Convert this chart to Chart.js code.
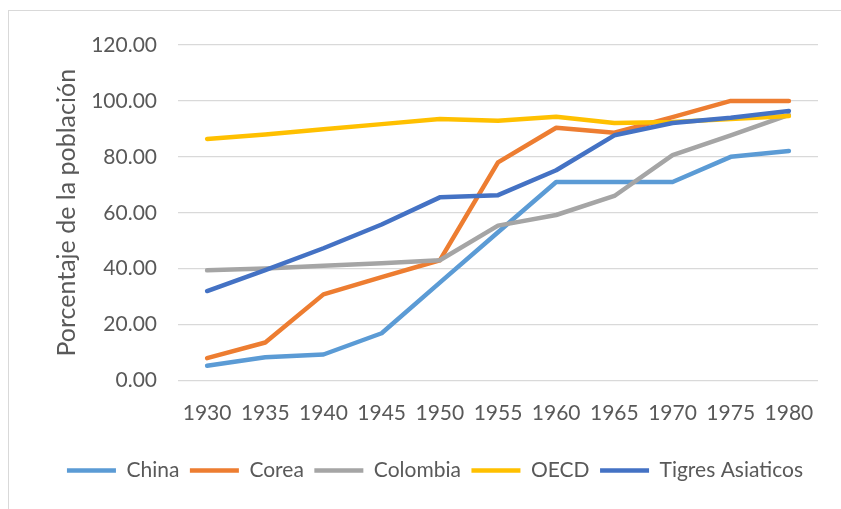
<!DOCTYPE html>
<html>
<head>
<meta charset="utf-8">
<script src="https://cdn.jsdelivr.net/npm/chart.js@4.4.1/dist/chart.umd.min.js"></script>
<style>
  html, body { margin: 0; padding: 0; background: #fff; }
  #wrap { position: relative; width: 841px; height: 509px; overflow: hidden; }
  #frame { position: absolute; left: 8px; top: 10px; width: 900px; height: 600px;
           border-left: 1px solid #D9D9D9; border-top: 1px solid #D9D9D9; box-sizing: border-box; pointer-events: none; }
  canvas { position: absolute; left: 0; top: 0; }
</style>
</head>
<body>
<div id="wrap">
  <div id="frame"></div>
  <canvas id="c" width="841" height="509"></canvas>
</div>
<script>
const years = ['1930','1935','1940','1945','1950','1955','1960','1965','1970','1975','1980'];
const china    = [5.3, 8.3, 9.3, 16.9, 35.0, 53.0, 71.0, 71.0, 71.0, 80.0, 82.1];
const corea    = [8.0, 13.6, 30.8, 37.0, 43.0, 78.0, 90.4, 88.6, 94.2, 100.0, 100.0];
const colombia = [39.4, 40.1, 41.0, 41.9, 43.0, 55.4, 59.2, 66.0, 80.6, 87.7, 95.0];
const oecd     = [86.4, 88.0, 89.9, 91.7, 93.5, 92.9, 94.3, 92.1, 92.5, 93.5, 94.6];
const tigres   = [32.0, 39.5, 47.3, 55.8, 65.5, 66.3, 75.2, 87.7, 92.1, 94.0, 96.4];
const seriesNames = ['China', 'Corea', 'Colombia', 'OECD', 'Tigres Asiaticos'];
const seriesColors = ['#5B9BD5', '#ED7D31', '#A5A5A5', '#FFC000', '#4472C4'];
const yTitle = 'Porcentaje de la población';

const FONT = 'Lato';
const TXT = '#595959';
const allSeries = [china, corea, colombia, oecd, tigres];

const datasets = allSeries.map((d, i) => ({
  label: seriesNames[i],
  data: d,
  borderColor: seriesColors[i],
  backgroundColor: seriesColors[i],
  borderWidth: 4.5,
  borderCapStyle: 'round',
  borderJoinStyle: 'round',
  pointRadius: 0,
  tension: 0,
  fill: false,
  order: allSeries.length - i
}));

new Chart(document.getElementById('c'), {
  type: 'line',
  data: { labels: years, datasets },
  options: {
    responsive: false,
    animation: false,
    layout: { padding: { left: 52, right: 23, top: 45, bottom: 18 } },
    plugins: {
      tooltip: { enabled: false },
      legend: {
        position: 'bottom',
        labels: {
          font: { family: FONT, size: 21 },
          color: TXT,
          boxWidth: 49,
          boxHeight: 4.5,
          padding: 10.5,
          sort: (a, b) => a.datasetIndex - b.datasetIndex,
          generateLabels: (chart) => chart.data.datasets.map((ds, i) => ({
            text: ds.label,
            fillStyle: ds.borderColor,
            strokeStyle: ds.borderColor,
            lineWidth: 0,
            fontColor: TXT,
            hidden: false,
            datasetIndex: i
          }))
        }
      }
    },
    scales: {
      x: {
        offset: true,
        grid: { display: false, drawTicks: false },
        border: { display: false },
        ticks: { font: { family: FONT, size: 21 }, color: TXT, padding: 20, maxRotation: 0 },
        afterFit: (s) => { s.height = 69; }
      },
      y: {
        min: 0, max: 120,
        ticks: {
          stepSize: 20,
          font: { family: FONT, size: 21 },
          color: TXT,
          padding: 21,
          callback: (v) => Number(v).toFixed(2)
        },
        grid: { color: '#D9D9D9', lineWidth: 1.3, drawTicks: false },
        border: { display: false },
        title: {
          display: true,
          text: yTitle,
          font: { family: FONT, size: 25 },
          color: TXT,
          padding: { top: 0, bottom: 0 }
        },
        afterFit: (s) => { s.width = 126; }
      }
    }
  }
});
</script>
</body>
</html>
